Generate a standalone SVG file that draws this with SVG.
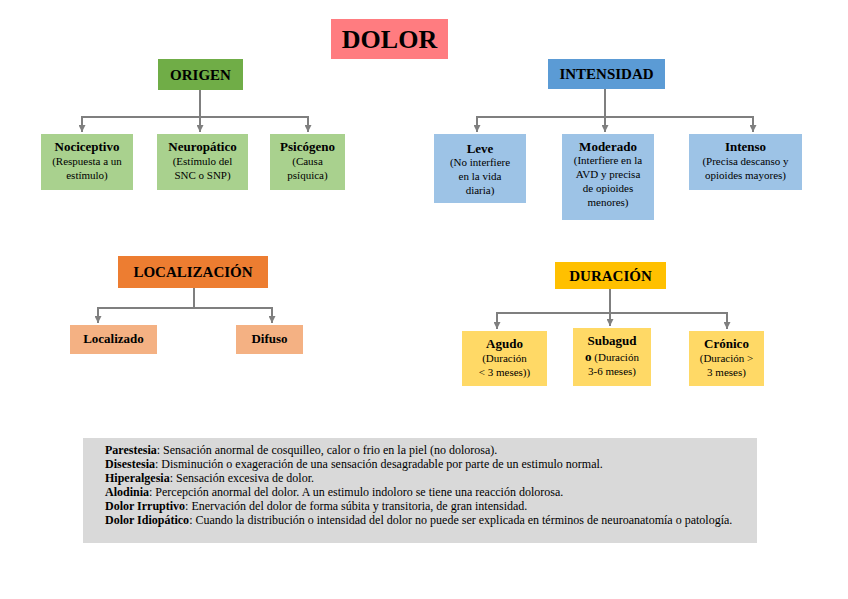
<svg xmlns="http://www.w3.org/2000/svg" width="848" height="599" viewBox="0 0 848 599" font-family="'Liberation Serif','Times New Roman','DejaVu Serif',serif">
<style>
text{font-family:'Liberation Serif','Times New Roman','DejaVu Serif',serif;fill:#000;text-anchor:middle}
.t{font-weight:bold;font-size:15px}
.h{font-weight:bold;font-size:13px}
.s{font-size:11px}
.c{fill:none;stroke:#7f7f7f;stroke-width:2}
.g text{text-anchor:start;font-size:12px}
.b{font-weight:bold}
</style>
<defs><marker id="a" viewBox="0 0 10 10" refX="10" refY="5" markerWidth="3.5" markerHeight="3.5" orient="auto" markerUnits="strokeWidth"><path d="M0,0L10,5L0,10z" fill="#7f7f7f"/></marker></defs>
<rect width="848" height="599" fill="#fff"/>
<g id="connectors">
<path class="c" d="M200,90V117M82,117H308"/>
<path class="c" d="M82,116V132" marker-end="url(#a)"/><path class="c" d="M200,116V132" marker-end="url(#a)"/><path class="c" d="M308,116V132" marker-end="url(#a)"/>
<path class="c" d="M605,89V117M477,117H753"/>
<path class="c" d="M477,116V132" marker-end="url(#a)"/><path class="c" d="M605,116V132" marker-end="url(#a)"/><path class="c" d="M753,116V132" marker-end="url(#a)"/>
<path class="c" d="M194,288V308M98,308H272"/>
<path class="c" d="M98,307V323" marker-end="url(#a)"/><path class="c" d="M272,307V323" marker-end="url(#a)"/>
<path class="c" d="M610,289V313M497,313H727"/>
<path class="c" d="M497,312V329" marker-end="url(#a)"/><path class="c" d="M610,312V326" marker-end="url(#a)"/><path class="c" d="M727,312V329" marker-end="url(#a)"/>
</g>
<g id="dolor"><rect x="331" y="19" width="117" height="40" fill="#ff7c80"/><text x="389.5" y="48" style="font-weight:bold;font-size:26px">DOLOR</text></g>
<g id="origen"><rect x="158" y="59" width="85" height="31" fill="#70ad47"/><text class="t" x="200.5" y="80">ORIGEN</text></g>
<g id="nociceptivo"><rect x="41" y="134" width="92" height="56" fill="#a9d18e"/><text class="h" x="87" y="151">Nociceptivo</text><text class="s" x="87" y="165">(Respuesta a un</text><text class="s" x="87" y="179">estímulo)</text></g>
<g id="neuropatico"><rect x="157" y="134" width="91" height="56" fill="#a9d18e"/><text class="h" x="202.5" y="151">Neuropático</text><text class="s" x="202.5" y="165">(Estímulo del</text><text class="s" x="202.5" y="179">SNC o SNP)</text></g>
<g id="psicogeno"><rect x="270" y="134" width="75" height="56" fill="#a9d18e"/><text class="h" x="307.5" y="151">Psicógeno</text><text class="s" x="307.5" y="165">(Causa</text><text class="s" x="307.5" y="179">psíquica)</text></g>
<g id="intensidad"><rect x="548" y="59" width="117" height="30" fill="#5b9bd5"/><text class="t" x="606.5" y="79">INTENSIDAD</text></g>
<g id="leve"><rect x="434" y="134" width="92" height="69" fill="#9dc3e6"/><text class="h" x="480" y="153">Leve</text><text class="s" x="480" y="166">(No interfiere</text><text class="s" x="480" y="180">en la vida</text><text class="s" x="480" y="194">diaria)</text></g>
<g id="moderado"><rect x="562" y="134" width="92" height="86" fill="#9dc3e6"/><text class="h" x="608" y="151">Moderado</text><text class="s" x="608" y="164">(Interfiere en la</text><text class="s" x="608" y="178">AVD y precisa</text><text class="s" x="608" y="192">de opioides</text><text class="s" x="608" y="206">menores)</text></g>
<g id="intenso"><rect x="689" y="134" width="113" height="56" fill="#9dc3e6"/><text class="h" x="745.5" y="151">Intenso</text><text class="s" x="745.5" y="165">(Precisa descanso y</text><text class="s" x="745.5" y="179">opioides mayores)</text></g>
<g id="localizacion"><rect x="118" y="256" width="150" height="32" fill="#ed7d31"/><text class="t" x="193" y="277">LOCALIZACIÓN</text></g>
<g id="localizado"><rect x="70" y="325" width="87" height="29" fill="#f4b183"/><text class="h" x="113.5" y="343">Localizado</text></g>
<g id="difuso"><rect x="236" y="325" width="67" height="29" fill="#f4b183"/><text class="h" x="269.5" y="343">Difuso</text></g>
<g id="duracion"><rect x="555" y="262" width="111" height="27" fill="#ffc000"/><text class="t" x="610.5" y="281">DURACIÓN</text></g>
<g id="agudo"><rect x="462" y="331" width="85" height="55" fill="#ffd966"/><text class="h" x="504.5" y="348">Agudo</text><text class="s" x="504.5" y="362">(Duración</text><text class="s" x="504.5" y="376">&lt; 3 meses))</text></g>
<g id="subagudo"><rect x="573" y="328" width="78" height="58" fill="#ffd966"/><text class="h" x="612" y="345">Subagud</text><text class="s" x="612" y="361"><tspan class="b" style="font-size:13px">o</tspan> (Duración</text><text class="s" x="612" y="375">3-6 meses)</text></g>
<g id="cronico"><rect x="689" y="331" width="75" height="55" fill="#ffd966"/><text class="h" x="726.5" y="348">Crónico</text><text class="s" x="726.5" y="362">(Duración &gt;</text><text class="s" x="726.5" y="376">3 meses)</text></g>
<g id="glosario" class="g"><rect x="83" y="438" width="674" height="105" fill="#d9d9d9"/>
<text x="105" y="454"><tspan class="b">Parestesia</tspan>: Sensación anormal de cosquilleo, calor o frio en la piel (no dolorosa).</text>
<text x="105" y="468"><tspan class="b">Disestesia</tspan>: Disminución o exageración de una sensación desagradable por parte de un estimulo normal.</text>
<text x="105" y="482"><tspan class="b">Hiperalgesia</tspan>: Sensación excesiva de dolor.</text>
<text x="105" y="496"><tspan class="b">Alodinia</tspan>: Percepción anormal del dolor. A un estimulo indoloro se tiene una reacción dolorosa.</text>
<text x="105" y="510"><tspan class="b">Dolor Irruptivo</tspan>: Enervación del dolor de forma súbita y transitoria, de gran intensidad.</text>
<text x="105" y="524"><tspan class="b">Dolor Idiopático</tspan>: Cuando la distribución o intensidad del dolor no puede ser explicada en términos de neuroanatomía o patología.</text>
</g>
</svg>
